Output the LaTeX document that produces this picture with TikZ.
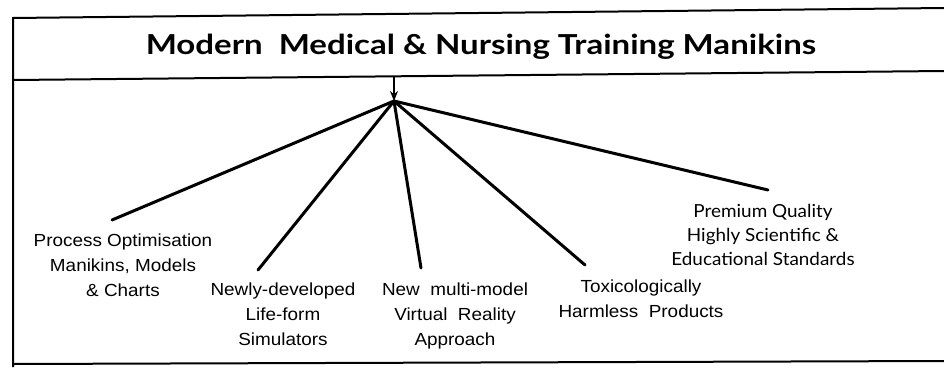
\documentclass[tikz,border=0pt]{standalone}
\usepackage{fontspec}
\setmainfont{Liberation Sans}[FakeStretch=1.08]
\newfontfamily\gillfont{Lato}[FakeStretch=1.05]
\newfontfamily\headfont{Lato}[FakeStretch=1.2]
\usetikzlibrary{arrows.meta}

\begin{document}
\begin{tikzpicture}[x=1pt,y=-1pt,
    rule/.style={line width=2pt},
    branch/.style={line width=3pt,line cap=round},
    leaf/.style={anchor=north,align=center,inner sep=0pt,font=\fontsize{17.5}{25}\selectfont}]
        \useasboundingbox (0,0) rectangle (944,367);
        \draw[rule] (944,8) -- (13,18) -- (13,367);
        \draw[rule] (13,80) -- (944,71);
        \draw[rule] (13,364) -- (944,361);
        \node[anchor=base,inner sep=0pt,font=\headfont\bfseries\fontsize{27.5}{32}\selectfont] (title) at (481,54) {Modern\ \ Medical \& Nursing Training Manikins};
        \coordinate (band) at (394,76);
        \coordinate (hub) at (394,101);
        \draw[-{Stealth[length=10pt,width=8pt]},line width=1.2pt] (band) -- (hub);
        \foreach \n/\x/\y in {1/112/220,2/258/270,3/421/268,4/585/265,5/768/190}
            \coordinate (end\n) at (\x,\y);
        \foreach \n in {1,...,5}
            \draw[branch] (hub) -- (end\n);
        \node[leaf] (process) at (123,234) {Process Optimisation\\Manikins, Models\\\& Charts};
        \node[leaf] (lifeform) at (283,283) {Newly-developed\\Life-form\\Simulators};
        \node[leaf] (virtual) at (455,283) {New\ \ multi-model\\Virtual\ \ Reality\\Approach};
        \node[leaf] (harmless) at (641,280) {Toxicologically\\Harmless\ \ Products};
        \node[leaf,font=\gillfont\fontsize{18}{24}\selectfont] (premium) at (763,204) {Premium Quality\\Highly Scientific \&\\Educational Standards};
    \end{tikzpicture}
\end{document}
